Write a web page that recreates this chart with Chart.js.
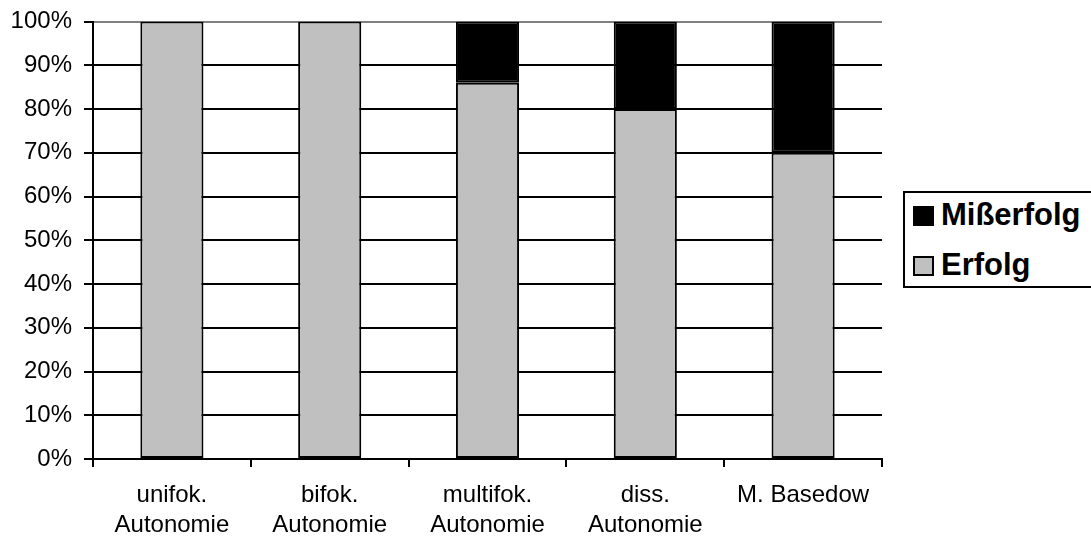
<!DOCTYPE html>
<html>
<head>
<meta charset="utf-8">
<script src="https://cdn.jsdelivr.net/npm/chart.js@4/dist/chart.umd.min.js"></script>
<style>
  body { margin: 0; background: #fff; overflow: hidden; }
  #wrap { position: relative; width: 1091px; height: 540px; }
  #legend {
    position: absolute; left: 903px; top: 191px; width: 200px; height: 93px;
    border: 2px solid #000; background: #fff;
    font-family: "Liberation Sans", Arial, sans-serif; font-weight: bold; font-size: 31px;
  }
  .item { position: absolute; left: 8px; height: 34px; line-height: 34px; white-space: nowrap; }
  .box { display: inline-block; width: 17px; height: 16px; border: 2px solid #000; margin-right: 7px; vertical-align: -1px; }
</style>
</head>
<body>
<div id="wrap">
  <canvas id="chart" width="1091" height="540"></canvas>
  <div id="legend">
    <div class="item" style="top:5px"><span class="box" style="background:#000"></span>Mißerfolg</div>
    <div class="item" style="top:55px"><span class="box" style="background:#c0c0c0"></span>Erfolg</div>
  </div>
</div>
<script>
var categories = [['unifok.', 'Autonomie'], ['bifok.', 'Autonomie'], ['multifok.', 'Autonomie'], ['diss.', 'Autonomie'], 'M. Basedow'];
var erfolg = [100, 100, 86, 80, 70];
var misserfolg = [0, 0, 14, 20, 30];
var yTicks = [0, 10, 20, 30, 40, 50, 60, 70, 80, 90, 100];

var fontFamily = '"Liberation Sans", Arial, sans-serif';

var ctx = document.getElementById('chart').getContext('2d');
new Chart(ctx, {
  type: 'bar',
  data: {
    labels: categories,
    datasets: [{
      label: 'Erfolg',
      data: erfolg,
      backgroundColor: '#c0c0c0',
      borderColor: '#000',
      borderWidth: 2,
      borderSkipped: false
    }, {
      label: 'Mißerfolg',
      data: misserfolg,
      backgroundColor: '#000',
      borderColor: '#000',
      borderWidth: 2,
      borderSkipped: false
    }]
  },
  options: {
    responsive: false,
    animation: false,
    devicePixelRatio: 1,
    layout: { padding: { left: 0, top: 21, right: 209, bottom: 0 } },
    categoryPercentage: 1,
    barPercentage: 0.4,
    plugins: {
      legend: { display: false },
      tooltip: { enabled: false }
    },
    scales: {
      x: {
        stacked: true,
        offset: true,
        grid: {
          offset: true,
          drawOnChartArea: true,
          // only the right edge of the plot gets a (grey) line
          color: function(c) { return c.index === categories.length ? '#808080' : 'rgba(0,0,0,0)'; },
          tickColor: '#000',
          tickLength: 8,
          lineWidth: 2
        },
        border: { display: true, color: '#000', width: 2 },
        ticks: {
          color: '#000',
          maxRotation: 0,
          padding: 13,
          font: { family: fontFamily, size: 24, lineHeight: 1.25 }
        },
        afterFit: function(scale) { scale.height = 81; }
      },
      y: {
        stacked: true,
        min: 0,
        max: 100,
        afterBuildTicks: function(scale) {
          scale.ticks = yTicks.map(function(v) { return { value: v }; });
        },
        grid: {
          color: function(c) { return c.tick && c.tick.value === 100 ? '#808080' : '#000'; },
          tickColor: '#000',
          tickLength: 9,
          lineWidth: 2
        },
        border: { display: true, color: '#000', width: 2 },
        ticks: {
          color: '#000',
          padding: 12,
          // small lineHeight keeps the top label from pushing the plot down
          font: { family: fontFamily, size: 24, lineHeight: 0.8 },
          callback: function(v) { return v + '%'; }
        },
        afterFit: function(scale) { scale.width = 93; }
      }
    }
  }
});
</script>
</body>
</html>
